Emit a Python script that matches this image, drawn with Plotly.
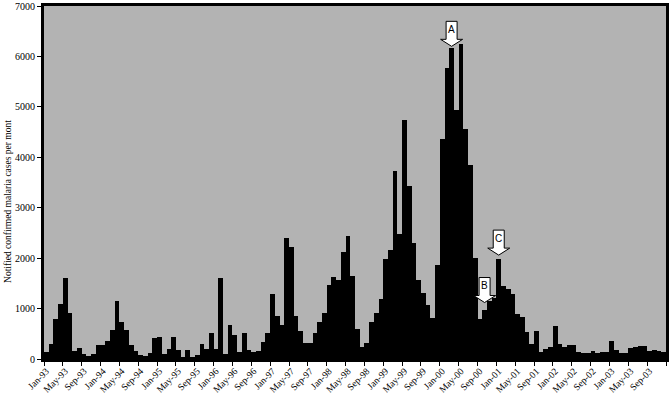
import plotly.graph_objects as go

# Monthly notified confirmed malaria cases, Jan-93 .. Dec-03 (132 months)
cases_1993 = [130, 290, 800, 1090, 1610, 920, 167, 213, 95, 63, 108, 272]
cases_1994 = [280, 350, 575, 1146, 732, 575, 272, 167, 83, 63, 122, 417]
cases_1995 = [443, 102, 201, 429, 181, 49, 175, 30, 89, 292, 190, 520]
cases_1996 = [205, 1611, 98, 675, 476, 130, 520, 181, 130, 154, 344, 510]
cases_1997 = [1280, 853, 680, 2400, 2216, 853, 561, 315, 315, 518, 730, 920]
cases_1998 = [1460, 1625, 1572, 2117, 2432, 1644, 594, 232, 312, 738, 909, 1197]
cases_1999 = [1993, 2170, 3727, 2478, 4737, 3437, 2300, 1560, 1316, 1073, 811, 1861]
cases_2000 = [4369, 5775, 6175, 4940, 6240, 4566, 3845, 2005, 792, 969, 1152, 1217]
cases_2001 = [1985, 1448, 1392, 1290, 900, 830, 530, 290, 561, 134, 200, 246]
cases_2002 = [654, 299, 232, 275, 270, 134, 122, 115, 154, 122, 134, 134]
cases_2003 = [351, 181, 122, 122, 220, 233, 253, 253, 154, 187, 167, 134]

cases = (cases_1993 + cases_1994 + cases_1995 + cases_1996 + cases_1997 + cases_1998
         + cases_1999 + cases_2000 + cases_2001 + cases_2002 + cases_2003)

tick_labels = [
    "Jan-93", "May-93", "Sep-93", "Jan-94", "May-94", "Sep-94",
    "Jan-95", "May-95", "Sep-95", "Jan-96", "May-96", "Sep-96",
    "Jan-97", "May-97", "Sep-97", "Jan-98", "May-98", "Sep-98",
    "Jan-99", "May-99", "Sep-99", "Jan-00", "May-00", "Sep-00",
    "Jan-01", "May-01", "Sep-01", "Jan-02", "May-02", "Sep-02",
    "Jan-03", "May-03", "Sep-03",
]
tick_step = 4  # months between labels

y_ticks = [0, 1000, 2000, 3000, 4000, 5000, 6000, 7000]

# Arrow call-outs: label, month index, value at arrow tip
arrow_labels = ["A", "B", "C"]
arrow_months = [86, 93, 96]
arrow_tips = [6200, 1120, 2060]

x_idx = list(range(len(cases)))
tick_vals = [i * tick_step for i in range(len(tick_labels))]

fig = go.Figure()
fig.add_trace(go.Bar(
    x=x_idx, y=cases,
    marker=dict(color="black", line=dict(width=0)),
    width=1.0,
    hoverinfo="y",
))

serif = "Liberation Serif, Times New Roman, serif"

arrow_path = "M 0,0 L -11,7 L -5.5,7 L -5.5,25 L 5.5,25 L 5.5,7 L 11,7 Z"
for lab, m, v in zip(arrow_labels, arrow_months, arrow_tips):
    fig.add_shape(
        type="path", xref="x", yref="y",
        xsizemode="pixel", ysizemode="pixel",
        xanchor=m, yanchor=v,
        path=arrow_path,
        fillcolor="white", line=dict(color="black", width=1),
    )
    fig.add_annotation(
        x=m, y=v, xref="x", yref="y", text=lab, showarrow=False,
        yshift=17, font=dict(family="Liberation Sans, Arial, sans-serif", size=10, color="black"),
    )

fig.add_annotation(
    x=0, y=0.445, xref="paper", yref="paper", xanchor="center", yanchor="middle",
    xshift=-36, textangle=-90, showarrow=False,
    text="Notified confirmed malaria cases per mont",
    font=dict(family=serif, size=9.5, color="black"),
)

fig.update_layout(
    width=669, height=396,
    margin=dict(l=44, r=3, t=6, b=37, autoexpand=False),
    paper_bgcolor="white",
    plot_bgcolor="#b3b3b3",
    bargap=0,
    showlegend=False,
    font=dict(family=serif, size=10, color="black"),
)
fig.update_xaxes(
    range=[-0.5, len(cases) - 0.5],
    tickmode="array", tickvals=tick_vals, ticktext=tick_labels,
    tickangle=-45, ticks="", automargin=False,
    minor=dict(tickmode="linear", tick0=-0.5, dtick=tick_step, ticks="outside",
               ticklen=4, tickcolor="black", showgrid=False),
    showline=True, linecolor="black", linewidth=3, mirror=True,
    showgrid=False, zeroline=False,
    tickfont=dict(family=serif, size=9.5, color="black"),
)
fig.update_yaxes(
    range=[0, 7000], automargin=False,
    tickmode="array", tickvals=y_ticks,
    ticks="outside", ticklen=4, tickcolor="black",
    showline=True, linecolor="black", linewidth=3, mirror=True,
    showgrid=False, zeroline=False,
    tickfont=dict(family=serif, size=10, color="black"),
)

fig.write_html(
    "out.html",
    config={"displayModeBar": False},
    post_script="document.body.style.margin='0';document.body.style.overflow='hidden';",
)
